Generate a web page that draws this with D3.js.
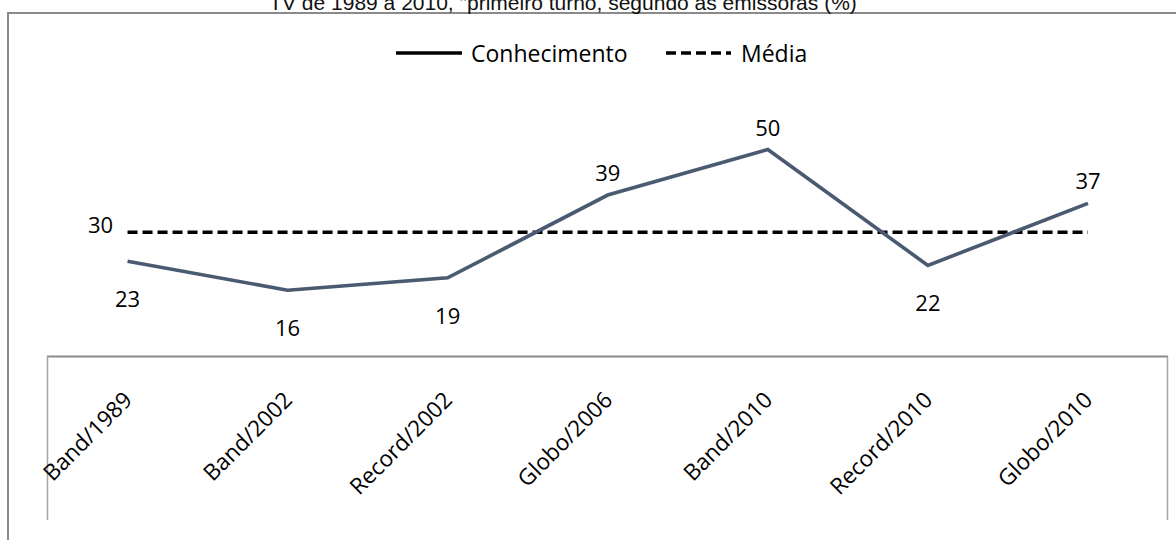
<!DOCTYPE html>
<html><head><meta charset="utf-8">
<script src="https://cdn.jsdelivr.net/npm/d3@7"></script>
<style>body{margin:0;background:#fff}svg{display:block}</style>
</head><body>
<svg id="c" width="1176" height="540"></svg>
<script>
const title = 'TV de 1989 a 2010, "primeiro turno, segundo as emissoras (%)';
const categories = ["Band/1989","Band/2002","Record/2002","Globo/2006","Band/2010","Record/2010","Globo/2010"];
const conhecimento = [23,16,19,39,50,22,37];
const media = [30,30,30,30,30,30,30];
const labelSide = ["below","below","below","above","above","below","above"];
const seriesNames = ["Conhecimento","Média"];

const svg = d3.select("#c");
const FONT = "'Open Sans', sans-serif";

// outer border
svg.append("rect").attr("x",8).attr("y",13).attr("width",1200).attr("height",560)
  .attr("fill","none").attr("stroke","#8a8a8a").attr("stroke-width",2);

// title (partially clipped at top, as in the reference)
svg.append("text").attr("x",563).attr("y",10).attr("text-anchor","middle")
  .attr("font-family","'Liberation Sans', Arial, sans-serif").attr("font-size",21)
  .attr("fill","#111").text(title);

const x = d3.scaleBand().domain(categories).range([47.5,1168]);
const cx = c => x(c) + x.bandwidth()/2;
const y = d3.scaleLinear().domain([0,60]).range([356.5,108.1]);

// category axis area box
const g = svg.append("g");
g.append("line").attr("x1",47).attr("x2",1168).attr("y1",y(0)).attr("y2",y(0))
  .attr("stroke","#8a8a8a").attr("stroke-width",2);
g.append("line").attr("x1",47.5).attr("x2",47.5).attr("y1",y(0)).attr("y2",520)
  .attr("stroke","#a6a6a6").attr("stroke-width",1.5);
g.append("line").attr("x1",1167.5).attr("x2",1167.5).attr("y1",y(0)).attr("y2",520)
  .attr("stroke","#a6a6a6").attr("stroke-width",1.5);

// category labels via axis
const ax = svg.append("g").attr("transform",`translate(0,${y(0)})`)
  .call(d3.axisBottom(x).tickSize(0).tickPadding(0));
ax.select(".domain").remove();
ax.selectAll("text")
  .attr("font-family",FONT).attr("font-size",22.5).attr("fill","#000")
  .attr("text-anchor","end").attr("dy",null).attr("y",0)
  .attr("transform",`translate(0,39) rotate(-45)`)
  .attr("dominant-baseline","central");

// lines
const line = d3.line().x((d,i)=>cx(categories[i])).y(d=>y(d));
svg.append("path").datum(media).attr("d",line).attr("fill","none")
  .attr("stroke","#000").attr("stroke-width",3.6).attr("stroke-dasharray","10,5");
svg.append("path").datum(conhecimento).attr("d",line).attr("fill","none")
  .attr("stroke","#4a5a70").attr("stroke-width",3.6).attr("stroke-linejoin","miter");

// data labels
const lab = svg.append("g").attr("font-family",FONT).attr("font-size",22).attr("fill","#000");
lab.selectAll("text.c").data(conhecimento).join("text").attr("class","c")
  .attr("x",(d,i)=>cx(categories[i]))
  .attr("y",(d,i)=>y(d) + (labelSide[i]==="above" ? -23 : 37))
  .attr("text-anchor","middle").attr("dominant-baseline","central").text(d=>d);
lab.append("text").attr("x",cx(categories[0])-27).attr("y",y(media[0])-8)
  .attr("text-anchor","middle").attr("dominant-baseline","central").text(media[0]);

// legend
const lg = svg.append("g").attr("font-family",FONT).attr("font-size",23).attr("fill","#000");
lg.append("line").attr("x1",396).attr("x2",462).attr("y1",53).attr("y2",53)
  .attr("stroke","#000").attr("stroke-width",3.6);
lg.append("text").attr("x",471).attr("y",53).attr("dominant-baseline","central").text(seriesNames[0]);
lg.append("line").attr("x1",666).attr("x2",731).attr("y1",53).attr("y2",53)
  .attr("stroke","#000").attr("stroke-width",3.6).attr("stroke-dasharray","10,5");
lg.append("text").attr("x",741).attr("y",53).attr("dominant-baseline","central").text(seriesNames[1]);
</script>
</body></html>
